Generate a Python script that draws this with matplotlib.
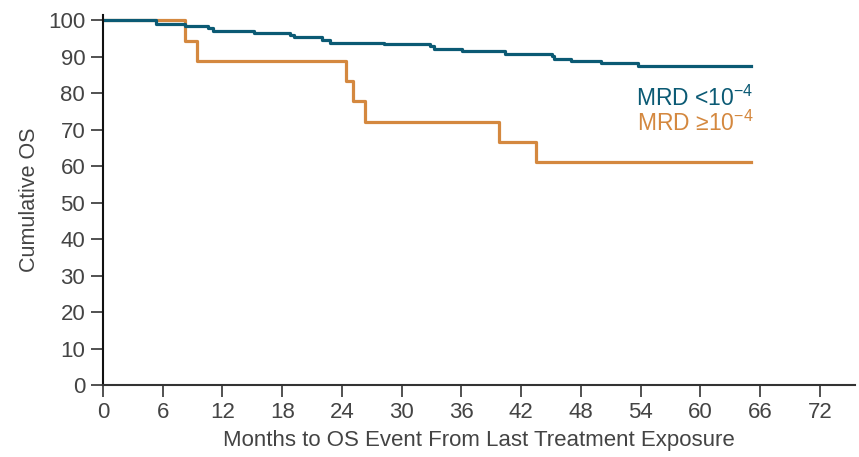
import matplotlib
matplotlib.use("Agg")
import matplotlib.pyplot as plt

plt.rcParams['font.family'] = ['Liberation Sans', 'DejaVu Sans']
plt.rcParams['mathtext.fontset'] = 'custom'
plt.rcParams['mathtext.rm'] = 'Liberation Sans'
plt.rcParams['mathtext.default'] = 'regular'

# Kaplan-Meier steps (months, cumulative OS %)
low_mrd_months = [0, 5.3, 8.2, 10.5, 11.1, 15.2, 18.8, 19.2, 22.0, 22.8, 28.2,
                  32.8, 33.2, 36.1, 40.4, 45.1, 45.3, 47.0, 50.0, 53.7, 65.1]
low_mrd_os = [100, 99.1, 98.5, 98.0, 97.1, 96.6, 96.0, 95.3, 94.7, 93.9, 93.5,
              92.9, 92.1, 91.5, 90.9, 90.1, 89.4, 88.8, 88.2, 87.4, 87.4]

high_mrd_months = [0, 8.2, 9.4, 24.4, 25.1, 26.3, 39.8, 43.5, 65.1]
high_mrd_os = [100, 94.4, 88.9, 83.3, 77.8, 72.2, 66.7, 61.1, 61.1]

x_ticks = list(range(0, 73, 6))
y_ticks = list(range(0, 101, 10))

blue = '#0b5a74'
orange = '#d4883f'
grey = '#444444'

fig = plt.figure(figsize=(8.59, 4.57), dpi=100)
ax = fig.add_axes([0.1199, 0.1575, 0.875, 0.81])

ax.step(high_mrd_months, high_mrd_os, where='post', color=orange, lw=2.3)
ax.step(low_mrd_months, low_mrd_os, where='post', color=blue, lw=2.3)

# labels stand in for a legend, right-aligned near the curve ends
ax.text(65.3, 76.4, 'MRD <10$^{-4}$', color=blue, fontsize=16.5,
        ha='right', va='baseline')
ax.text(65.3, 69.6, 'MRD \u226510$^{-4}$', color=orange, fontsize=16.5,
        ha='right', va='baseline')

ax.set_xlim(0, 75.5)
ax.set_ylim(0, 101.5)
ax.set_xticks(x_ticks)
ax.set_yticks(y_ticks)

for side in ['top', 'right']:
    ax.spines[side].set_visible(False)
ax.spines['left'].set_color('#111111')
ax.spines['bottom'].set_color('#333333')
ax.spines['left'].set_linewidth(1.5)
ax.spines['bottom'].set_linewidth(1.5)

ax.tick_params(axis='both', length=8.3, width=1.2, color='#333333',
               labelcolor=grey)
ax.tick_params(axis='x', labelsize=16, pad=4)
ax.tick_params(axis='y', labelsize=16, pad=4.5)

ax.set_xlabel('Months to OS Event From Last Treatment Exposure',
              fontsize=16, color=grey, labelpad=5)
ax.set_ylabel('Cumulative OS', fontsize=15.5, color=grey, labelpad=6)

fig.savefig('out.png', dpi=100)
